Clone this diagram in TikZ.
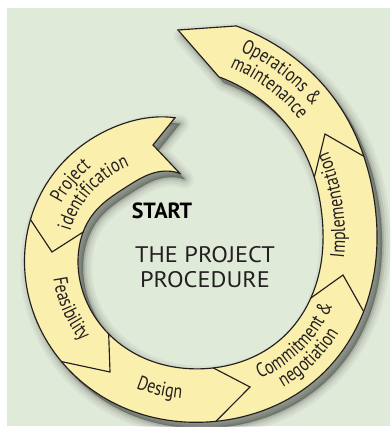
\documentclass[tikz,border=0pt]{standalone}
\usepackage{fontspec}
\setmainfont{PT Sans}
\newfontfamily\lblfam[FakeStretch=0.8]{PT Sans}
\newfontfamily\titlefam[FakeStretch=1.08]{PT Sans}
\usetikzlibrary{decorations.text}
\definecolor{panelgreen}{RGB}{224,234,217}
\definecolor{bandyellow}{RGB}{250,239,172}
\definecolor{ink}{RGB}{35,31,32}
\newcommand\lblf{\lblfam\fontsize{20}{22}\selectfont\color{ink}}
% spiral band: outer radius ro, inner radius ri, centre (175,244) in pixel coordinates
\newcommand\bandpath{plot[domain=90:434.3, samples=160, variable=\q] ({175+ro(\q)*cos(\q)},{244-ro(\q)*sin(\q)}) -- (178,30) -- plot[domain=0:1, samples=160, variable=\q] ({175+ri(435.3-349.3*\q)*cos(435.3-349.3*\q)},{244-ri(435.3-349.3*\q)*sin(435.3-349.3*\q)}) -- (153,145) -- cycle}
\newcommand\spt[3]{\coordinate (#1) at ({175+(#3)*cos(#2)},{244-(#3)*sin(#2)});}
\newcommand\spiraltext[4]{\path[decorate, decoration={text along path, text={|\lblf|#4}, text align=center}] plot[domain=0:1, samples=70, variable=\q] ({175+(ro(#2+((#3)-(#2))*\q)-(#1))*cos(#2+((#3)-(#2))*\q)},{244-(ro(#2+((#3)-(#2))*\q)-(#1))*sin(#2+((#3)-(#2))*\q)});}
\tikzset{edge/.style={draw=ink, line width=1.15pt, line join=miter}}
\begin{document}
\begin{tikzpicture}[x=1pt, y=-1pt,
  declare function={
    ro(\a)=183.9+0.3029*(\a-293.5)+4*exp(0-((\a-90)/25)^2)+5*exp(0-((\a-318)/30)^2)-4*exp(0-((\a-375)/25)^2);
    ri(\a)=ro(\a)-54-6*exp(0-((\a-135)/25)^2);
  }]
\useasboundingbox (0,0) rectangle (390,427);
\fill[white] (0,0) rectangle (390,427);
\fill[panelgreen] (7,8) rectangle (390,426);
% soft shadow
\foreach \w/\op in {18/0.04, 13/0.05, 8/0.07, 4/0.09, 1/0.1}{
  \filldraw[black, opacity=\op, line width=\w pt, line join=round, shift={(5,6)}] \bandpath;
}
% band
\filldraw[fill=bandyellow, edge] \bandpath;
% chevrons between stages
\spt{c1o}{170.4}{ro(170.4)} \spt{c1i}{172.6}{ri(172.6)} \coordinate (c1v) at (52,252);
\spt{c2o}{226}{ro(226)}     \spt{c2i}{233.6}{ri(233.6)} \coordinate (c2v) at (110,372);
\spt{c3o}{283}{ro(283)}     \spt{c3i}{287.2}{ri(287.2)} \coordinate (c3v) at (250,387);
\spt{c4o}{340.3}{ro(340.3)} \spt{c4i}{338.3}{ri(338.3)} \coordinate (c4v) at (343,275);
\spt{c5o}{384.9}{ro(384.9)} \spt{c5i}{385.6}{ri(385.6)} \coordinate (c5v) at (325,134);
\draw[edge] (c1o) -- (c1v) -- (c1i);
\draw[edge] (c2o) -- (c2v) -- (c2i);
\draw[edge] (c3o) -- (c3v) -- (c3i);
\draw[edge] (c4o) -- (c4v) -- (c4i);
\draw[edge] (c5o) -- (c5v) -- (c5i);
% stage labels along the spiral
\spiraltext{23}{182.6}{112.6}{Project}
\spiraltext{42}{189.6}{99.6}{identification}
\spiraltext{28}{174.8}{244.8}{Feasibility}
\spiraltext{23}{232.7}{292.7}{Design}
\spiraltext{31}{284.8}{354.8}{Commitment {\&}}
\spiraltext{13}{288.8}{348.8}{negotiation}
\spiraltext{32}{337.5}{407.5}{Implementation}
\spiraltext{22}{447.5}{387.5}{Operations {\&}}
\spiraltext{41}{448.2}{388.2}{maintenance}
% centre text
\node[font=\fontsize{22}{24}\selectfont\bfseries, text=black] (start) at (162,211) {START};
\node[font=\titlefam\fontsize{22.5}{26}\selectfont, text=ink] (title1) at (205,255) {THE PROJECT};
\node[font=\titlefam\fontsize{22.5}{26}\selectfont, text=ink] (title2) at (205,280) {PROCEDURE};
\end{tikzpicture}
\end{document}
